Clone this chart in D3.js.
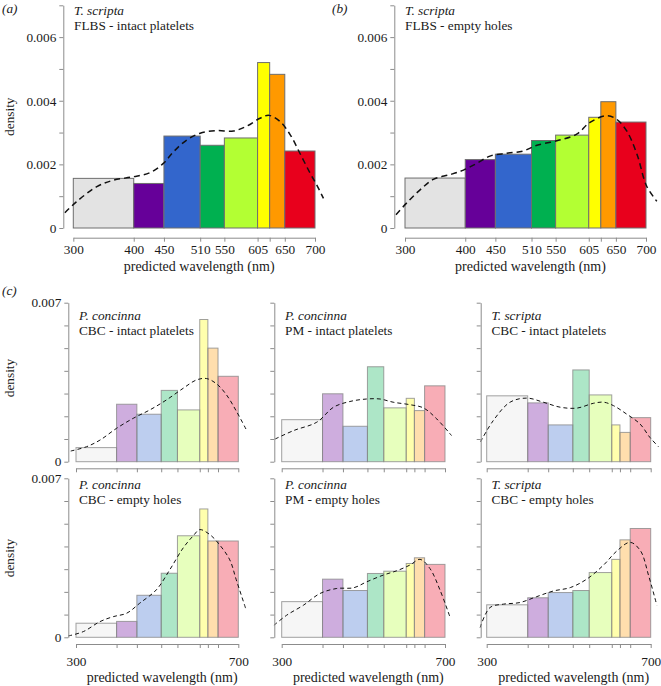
<!DOCTYPE html>
<html>
<head>
<meta charset="utf-8">
<script src="https://d3js.org/d3.v7.min.js"></script>
<style>
body{margin:0;background:#fff;}
svg text{font-family:"Liberation Serif","DejaVu Serif",serif;fill:#1a1a1a;}
</style>
</head>
<body>
<script>
//bin edges (nm) and bin colours
var edges = [300, 400, 450, 510, 550, 605, 625, 650, 700];
var binColors = ["#e3e3e3", "#660099", "#3366cc", "#00b050", "#b3ff33", "#ffff00", "#ff9900", "#e8001c"];
var xLabelsAB = [300, 400, 450, 510, 550, 605, 650, 700];
var xLabelsC = [300, 700];
var yLabelsAB = [0, 0.002, 0.004, 0.006];
var yLabelsC = [0, 0.007];

//histogram densities, one per bin
var aBars = [0.00156, 0.0014, 0.00289, 0.0026, 0.00283, 0.0052, 0.00483, 0.00242];
var bBars = [0.00157, 0.00215, 0.00232, 0.00275, 0.00292, 0.00348, 0.00397, 0.00333];
var pcCbcIntact = [0.00062, 0.00253, 0.00209, 0.00314, 0.00228, 0.00626, 0.005, 0.00376];
var pcPmIntact = [0.00185, 0.00299, 0.00156, 0.00418, 0.00237, 0.00279, 0.00225, 0.00334];
var tsCbcIntact = [0.0029, 0.00259, 0.00162, 0.00404, 0.00294, 0.00162, 0.00129, 0.00194];
var pcCbcEmpty = [0.00062, 0.0007, 0.00185, 0.00282, 0.00447, 0.00565, 0.00424, 0.00424];
var pcPmEmpty = [0.00157, 0.00256, 0.00206, 0.00281, 0.00291, 0.00325, 0.0035, 0.00321];
var tsCbcEmpty = [0.00143, 0.00174, 0.00197, 0.00206, 0.00285, 0.00343, 0.00429, 0.00479];

//density curves [nm, density]
var aCurve = [[286,0.00048],[305,0.00082],[339,0.0013],[366,0.0015],[399,0.00161],[427,0.00174],[449,0.00203],[466,0.0024],[488,0.00277],[510,0.00298],[537,0.00306],[565,0.00305],[587,0.0032],[609,0.00345],[624,0.00354],[642,0.00335],[659,0.00293],[675,0.00235],[692,0.00172],[703,0.00135],[714,0.00093]];
var bCurve = [[285,0.00042],[303,0.00079],[325,0.0012],[347,0.00153],[375,0.00168],[397,0.00182],[419,0.00203],[441,0.00226],[469,0.00235],[496,0.00242],[519,0.0026],[552,0.00274],[585,0.00295],[607,0.00332],[635,0.00353],[651,0.00342],[668,0.00305],[685,0.00232],[701,0.00132],[718,0.00084]];
var pcCbcIntactCurve = [[287,0.00047],[326,0.00066],[359,0.00095],[400,0.00147],[441,0.00191],[482,0.00228],[523,0.00272],[564,0.00323],[597,0.0036],[622,0.00366],[647,0.00342],[671,0.00294],[696,0.0022],[720,0.0014]];
var pcPmIntactCurve = [[284,0.001],[329,0.00137],[386,0.00174],[427,0.0024],[467,0.00265],[508,0.00276],[541,0.00276],[573,0.00262],[614,0.00251],[647,0.00237],[680,0.00188],[716,0.00115]];
var tsCbcIntactCurve = [[285,0.00088],[316,0.00181],[357,0.00262],[398,0.0028],[438,0.00262],[479,0.0024],[520,0.00236],[560,0.00257],[585,0.00262],[609,0.00247],[641,0.0021],[674,0.00166],[698,0.00107],[719,0.00066]];
var pcCbcEmptyCurve = [[281,0.00006],[318,0.00025],[359,0.00069],[392,0.00091],[425,0.00106],[457,0.0015],[498,0.00209],[531,0.00297],[564,0.00393],[589,0.00447],[605,0.00474],[630,0.00452],[654,0.00407],[679,0.00341],[695,0.00253],[718,0.00128]];
var pcPmEmptyCurve = [[281,0.00053],[312,0.00097],[353,0.00141],[394,0.00193],[435,0.00215],[476,0.00218],[508,0.00244],[549,0.00274],[582,0.00293],[614,0.00318],[639,0.00343],[663,0.00303],[688,0.00207],[712,0.0009]];
var tsCbcEmptyCurve = [[284,0.00043],[308,0.00131],[341,0.00146],[381,0.00153],[422,0.00179],[463,0.00204],[504,0.00219],[544,0.00256],[585,0.00318],[618,0.00381],[650,0.00418],[675,0.00381],[695,0.00271],[715,0.00141]];

var width = 661,
	height = 686;

var serif = "'Liberation Serif', 'Times New Roman', 'DejaVu Serif', serif";

var svg = d3.select("body")
	.append("svg")
	.attr("width", width)
	.attr("height", height)
	.style("font-family", serif);

//panel layout
var panels = [
	{bars: aBars, curve: aCurve, sp: "T. scripta", sub: "FLBS - intact platelets", x0: 73.3, x1: 315, yb: 228, yt: 5.3, ax: 63.3, xa: 237.7,
		big: true, yLab: yLabelsAB, xLab: xLabelsAB, ty: 14.6, xpad: 2.5, title: 271, dens: 116.7},
	{bars: bBars, curve: bCurve, sp: "T. scripta", sub: "FLBS - empty holes", x0: 405, x1: 646, yb: 228, yt: 5.3, ax: 394.3, xa: 237.7,
		big: true, yLab: yLabelsAB, xLab: xLabelsAB, ty: 14.6, xpad: 2.5, title: 271, dens: null},
	{bars: pcCbcIntact, curve: pcCbcIntactCurve, sp: "P. concinna", sub: "CBC - intact platelets", x0: 76, x1: 238.3, yb: 461.7, yt: 302.7, ax: 68.3, xa: 468.3,
		yLab: yLabelsC, xLab: [], ty: 320, dens: 378},
	{bars: pcPmIntact, curve: pcPmIntactCurve, sp: "P. concinna", sub: "PM - intact platelets", x0: 281.7, x1: 445, yb: 461.7, yt: 302.7, ax: 274.3, xa: 468.3,
		yLab: [], xLab: [], ty: 320},
	{bars: tsCbcIntact, curve: tsCbcIntactCurve, sp: "T. scripta", sub: "CBC - intact platelets", x0: 486.7, x1: 650.7, yb: 461.7, yt: 302.7, ax: 480.7, xa: 468.3,
		yLab: [], xLab: [], ty: 320},
	{bars: pcCbcEmpty, curve: pcCbcEmptyCurve, sp: "P. concinna", sub: "CBC - empty holes", x0: 76, x1: 238.3, yb: 637.3, yt: 478.3, ax: 68.3, xa: 644,
		yLab: yLabelsC, xLab: xLabelsC, ty: 489, xpad: 9, title: 682, dens: 558},
	{bars: pcPmEmpty, curve: pcPmEmptyCurve, sp: "P. concinna", sub: "PM - empty holes", x0: 281.7, x1: 445, yb: 637.3, yt: 478.3, ax: 274.3, xa: 644,
		yLab: [], xLab: xLabelsC, ty: 489, xpad: 9, title: 682},
	{bars: tsCbcEmpty, curve: tsCbcEmptyCurve, sp: "T. scripta", sub: "CBC - empty holes", x0: 486.7, x1: 650.7, yb: 637.3, yt: 478.3, ax: 480.7, xa: 644,
		yLab: [], xLab: xLabelsC, ty: 489, xpad: 9, title: 682}
];

panels.forEach(drawPanel);

//panel letters
[["(a)", 2, 13], ["(b)", 332, 13], ["(c)", 2, 295]].forEach(function(l){
	svg.append("text")
		.attr("x", l[1]).attr("y", l[2])
		.style("font-family", serif)
		.style("font-style", "italic")
		.style("font-size", "13.3px")
		.text(l[0]);
});

function drawPanel(p){
	var g = svg.append("g");

	var x = d3.scaleLinear().domain([300, 700]).range([p.x0, p.x1]);
	var y = d3.scaleLinear().domain([0, 0.007]).range([p.yb, p.yt]);

	//histogram bars
	g.selectAll(".bar")
		.data(p.bars)
		.enter()
		.append("rect")
		.attr("class", "bar")
		.attr("x", function(d, i){ return x(edges[i]); })
		.attr("width", function(d, i){ return x(edges[i + 1]) - x(edges[i]); })
		.attr("y", function(d){ return y(d); })
		.attr("height", function(d){ return y(0) - y(d); })
		.attr("fill", function(d, i){ return binColors[i]; })
		.attr("fill-opacity", p.big ? 1 : 0.32)
		.attr("stroke", p.big ? "#6e6e6e" : "#8a8a8a")
		.attr("stroke-opacity", p.big ? 1 : 0.8)
		.attr("stroke-width", 1);

	//density line
	var line = d3.line()
		.x(function(d){ return x(d[0]); })
		.y(function(d){ return y(d[1]); })
		.curve(d3.curveCatmullRom.alpha(0.5));

	g.append("path")
		.datum(p.curve)
		.attr("d", line)
		.attr("fill", "none")
		.attr("stroke", "#111")
		.attr("stroke-width", p.big ? 1.5 : 1)
		.attr("stroke-dasharray", p.big ? "6,4" : "4,3");

	//y axis
	var yAxis = d3.axisLeft(y)
		.tickValues(d3.range(0, 8).map(function(k){ return k / 1000; }))
		.tickSize(4)
		.tickSizeOuter(0)
		.tickPadding(3)
		.tickFormat(function(d){
			var hit = p.yLab.some(function(v){ return Math.abs(v - d) < 1e-9; });
			return hit ? (d === 0 ? "0" : d3.format(".3f")(d)) : "";
		});

	var ya = g.append("g")
		.attr("transform", "translate(" + p.ax + ",0)")
		.call(yAxis);

	//x axis
	var xAxis = d3.axisBottom(x)
		.tickValues(edges)
		.tickSize(4)
		.tickSizeOuter(0)
		.tickPadding(p.xpad || 3)
		.tickFormat(function(d){ return p.xLab.indexOf(d) >= 0 ? d : ""; });

	var xa = g.append("g")
		.attr("transform", "translate(0," + p.xa + ")")
		.call(xAxis);

	[ya, xa].forEach(function(a){
		a.attr("font-family", serif).attr("font-size", null);
		a.selectAll("path, line").attr("stroke", "#8c8c8c");
		a.selectAll("text")
			.style("font-family", serif)
			.style("font-size", "13.3px")
			.attr("fill", "#1a1a1a");
	});

	//titles
	g.append("text")
		.attr("x", p.ax + 10.7)
		.attr("y", p.ty)
		.style("font-family", serif)
		.style("font-style", "italic")
		.style("font-size", "13.3px")
		.text(p.sp);

	g.append("text")
		.attr("x", p.ax + 10.7)
		.attr("y", p.ty + 15)
		.style("font-family", serif)
		.style("font-size", "13.3px")
		.text(p.sub);

	if (p.title){
		g.append("text")
			.attr("x", (p.x0 + p.x1) / 2 + 5)
			.attr("y", p.title)
			.attr("text-anchor", "middle")
			.style("font-family", serif)
			.style("font-size", "14px")
			.text("predicted wavelength (nm)");
	}

	if (p.dens){
		g.append("text")
			.attr("transform", "translate(14," + p.dens + ") rotate(-90)")
			.attr("text-anchor", "middle")
			.style("font-family", serif)
			.style("font-size", "13.3px")
			.text("density");
	}
}
</script>
</body>
</html>
